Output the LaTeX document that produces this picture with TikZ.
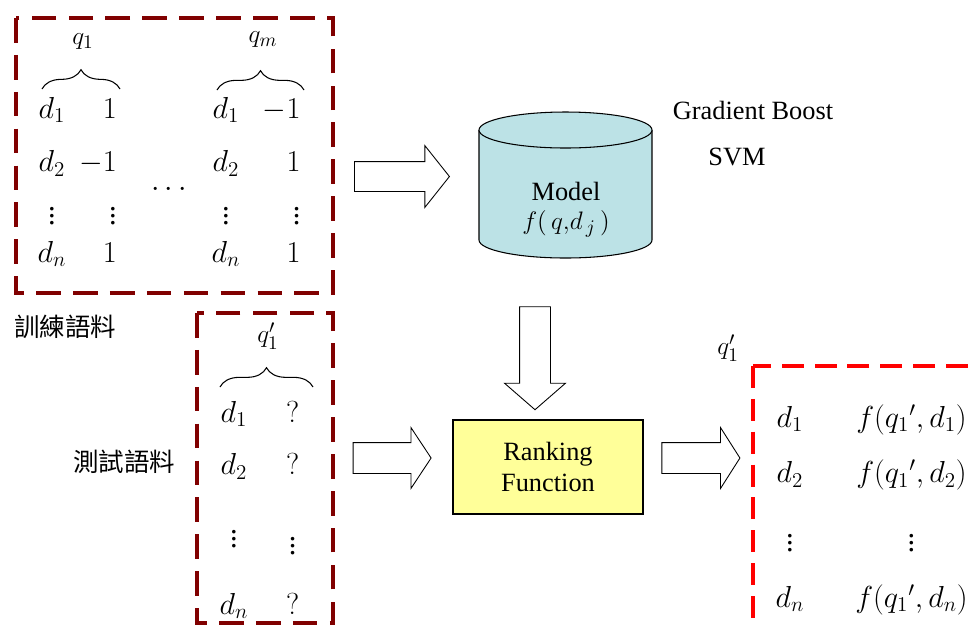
\documentclass[tikz,border=0pt]{standalone}
\usepackage{fontspec}
\setmainfont{Liberation Serif}
\newfontfamily\cjk{Noto Sans CJK TC}
\usetikzlibrary{matrix,
                shapes.arrows,
                decorations.pathreplacing}
\definecolor{boxred}{RGB}{128,0,0}
\definecolor{cylfill}{RGB}{188,226,230}
\definecolor{rankfill}{RGB}{255,255,153}
\tikzset{
	blockarrow/.style={
			single arrow, draw=black, fill=white, line width=0.5pt,
			inner sep=0pt, minimum width=0pt
		}
}

\begin{document}
\begin{tikzpicture}[
x=0.02cm, y=-0.02cm,
         M/.style = {matrix of math nodes,
                     nodes = {inner sep=0pt, text height=12pt, text depth=4pt,
                              font=\fontsize{17.28}{20}\selectfont},
                     column 1/.style = {anchor=base}},
   databox/.style = {dash pattern=on 14pt off 7pt, line width=2.8pt},
     brace/.style = {decorate, decoration={brace, amplitude=11pt}, line width=0.6pt},
    qlabel/.style = {font=\fontsize{15}{17}\selectfont},
      word/.style = {font=\fontsize{15}{17.5}\selectfont, align=center},
      cjkw/.style = {font=\cjk\fontsize{14.5}{16}\selectfont}
                    ]
\useasboundingbox (0,0) rectangle (979,627);
\clip (0,0) rectangle (979,627);

% training data
\draw[databox, boxred] (16,18) rectangle (333,293);
\matrix (trainA) [M, column 2/.style={anchor=base east}, column sep=7.3pt,
                  row sep=5.5pt, matrix anchor=trainA-1-1.base] at (52,118)
{
d_1 & 1\\[9.1pt]
d_2 & -1\\[8.5pt]
\vdots & \vdots \\
d_n & 1\\
};
\matrix (trainM) [M, column 2/.style={anchor=base east}, column sep=12.9pt,
                  row sep=5.5pt, matrix anchor=trainM-1-1.base] at (226,118)
{
d_1 & -1\\[9.1pt]
d_2 & 1\\[8.5pt]
\vdots & \vdots \\
d_n & 1\\
};
\node (qone) [qlabel] at (83,42) {$q_1$};
\node (qm)   [qlabel] at (263,40) {$q_m$};
\draw[brace] (42,89) -- (120,89);
\draw[brace] (217,90) -- (304,90);
\node (hdots) [font=\fontsize{17.28}{20}\selectfont] at (169,190) {$\cdots$};
\node (trainlbl) [cjkw] at (65,327) {訓練語料};

% test data
\draw[databox, boxred] (197,313) rectangle (333,623);
\matrix (test) [M, column 2/.style={anchor=base}, column sep=21.5pt,
                row sep=14pt, matrix anchor=test-1-1.base] at (234,422)
{
d_1 & ?\\
d_2 & ?\\[11.4pt]
\vdots & |[yshift=-4pt]| \vdots \\[4pt]
d_n & ?\\
};
\node (qtest) [qlabel] at (268,336) {$q'_1$};
\draw[brace] (220,387) -- (313,387);
\node (testlbl) [cjkw] at (124,462) {測試語料};

% model
\fill[cylfill] (479,130) rectangle (652,240);
\fill[cylfill] (565.5,240) ellipse [x radius=86.5, y radius=18];
\draw[line width=0.6pt] (479,130) -- (479,240)
      arc [start angle=180, end angle=0, x radius=86.5, y radius=18] -- (652,130);
\filldraw[fill=cylfill, line width=0.6pt] (565.5,130) ellipse [x radius=86.5, y radius=18];
\node (model) [word] at (566,210) {Model\\[-1pt] $f(\,q{,}d_{\,j}\,)$};
\node (algo) [word] at (753,110) {Gradient Boost};
\node (svm)  [word] at (737,157) {SVM};

% ranking
\node (rank) [word, draw, line width=0.7pt, fill=rankfill, minimum width=3.8cm,
              minimum height=1.88cm] at (548,467) {Ranking\\ Function};

\node (arrA) [blockarrow, inner ysep=0.29cm, single arrow head extend=0.32cm,
              minimum height=1.9cm, single arrow tip angle=103] at (396,176.5) {};
\node (arrD) [blockarrow, inner xsep=0.3cm, single arrow head extend=0.3cm,
              minimum height=2.06cm, single arrow tip angle=98,
              shape border rotate=270] at (535,351.5) {};
\node (arrB) [blockarrow, inner ysep=0.3cm, single arrow head extend=0.3cm,
              minimum height=1.56cm, single arrow tip angle=113] at (387,458) {};
\node (arrC) [blockarrow, inner ysep=0.3cm, single arrow head extend=0.3cm,
              minimum height=1.56cm, single arrow tip angle=115] at (696,458) {};

% result
\draw[databox, red, dash pattern=on 12.5pt off 6.2pt] (753,366) rectangle (1010,660);
\node (qres) [qlabel] at (728,348) {$q'_1$};
\matrix (result) [M, column 2/.style={anchor=base}, column sep=29pt,
                  row sep=15.7pt, matrix anchor=result-1-1.base] at (790,427)
{
d_1 & f(q_1{}',d_1)\\
d_2 & f(q_1{}',d_2)\\[7.4pt]
\vdots & \vdots \\
d_n & f(q_1{}',d_n)\\
};
\end{tikzpicture}
\end{document}
